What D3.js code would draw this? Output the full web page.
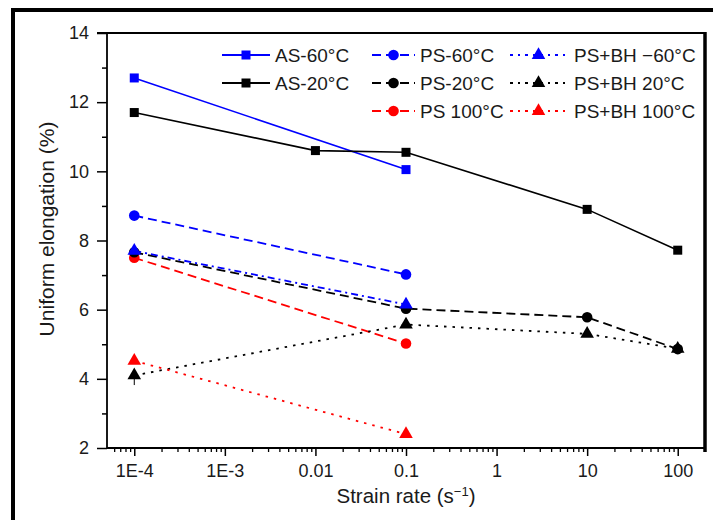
<!DOCTYPE html>
<html><head><meta charset="utf-8">
<script src="https://cdn.jsdelivr.net/npm/d3@7"></script>
<style>
html,body{margin:0;padding:0;background:#fff;}
svg{display:block;font-family:"Liberation Sans",Arial,Helvetica,sans-serif;}
</style></head>
<body><svg id="chart" width="713" height="520"></svg>
<script>
// ---- data ----
const xTickValues = [1e-4, 1e-3, 0.01, 0.1, 1, 10, 100];
const xTickLabels = ["1E-4", "1E-3", "0.01", "0.1", "1", "10", "100"];
const yTickValues = [2, 4, 6, 8, 10, 12, 14];

const asRates = [1e-4, 0.1];
const as60 = [12.7, 10.05];
const as20Rates = [1e-4, 0.01, 0.1, 10, 100];
const as20 = [11.7, 10.6, 10.55, 8.9, 7.72];

const psRates = [1e-4, 0.1];
const ps60 = [8.72, 7.02];
const ps20Rates = [1e-4, 0.1, 10, 100];
const ps20 = [7.66, 6.03, 5.78, 4.86];
const ps100 = [7.5, 5.02];

const bhRates = [1e-4, 0.1];
const bh60 = [7.7, 6.15];
const bh20Rates = [1e-4, 0.1, 10, 100];
const bh20 = [4.1, 5.57, 5.3, 4.87];
const bh20Err = [0.28, 0, 0, 0];
const bh100 = [4.52, 2.4];

const seriesNames = ["AS-60\u00B0C", "AS-20\u00B0C", "PS-60\u00B0C", "PS-20\u00B0C", "PS 100\u00B0C",
  "PS+BH \u221260\u00B0C", "PS+BH 20\u00B0C", "PS+BH 100\u00B0C"];

// ---- build series table ----
const series = [
  {name: seriesNames[0], xs: asRates, ys: as60, color: "#0000ff", dash: null, shape: "square"},
  {name: seriesNames[1], xs: as20Rates, ys: as20, color: "#000000", dash: null, shape: "square"},
  {name: seriesNames[2], xs: psRates, ys: ps60, color: "#0000ff", dash: "9,5", shape: "circle"},
  {name: seriesNames[3], xs: ps20Rates, ys: ps20, color: "#000000", dash: "9,5", shape: "circle"},
  {name: seriesNames[4], xs: psRates, ys: ps100, color: "#ff0000", dash: "9,5", shape: "circle"},
  {name: seriesNames[5], xs: bhRates, ys: bh60, color: "#0000ff", dash: "7,4,2,4", shape: "triangle"},
  {name: seriesNames[6], xs: bh20Rates, ys: bh20, color: "#000000", dash: "2.5,6", shape: "triangle", err: bh20Err},
  {name: seriesNames[7], xs: bhRates, ys: bh100, color: "#ff0000", dash: "2.5,6", shape: "triangle"}
];

const svg = d3.select("#chart");
const L = 107, R = 705, T = 33, B = 448;

// outer frame
svg.append("rect").attr("x", 13).attr("y", 10).attr("width", 740).attr("height", 540)
  .attr("fill", "none").attr("stroke", "#000").attr("stroke-width", 4);

const x = d3.scaleLog().domain([5e-5, 200]).range([L, R]);
const y = d3.scaleLinear().domain([2, 14]).range([B, T]);

// minor ticks
const xMinor = [];
for (let e = -5; e <= 2; e++) for (let m = 2; m <= 9; m++) {
  const v = m * Math.pow(10, e);
  if (v > 5e-5 && v < 200) xMinor.push(v);
}
svg.append("g").attr("transform", `translate(0,${B})`)
  .call(d3.axisBottom(x).tickValues(xMinor).tickSize(4).tickFormat(""))
  .call(g => g.select(".domain").remove())
  .selectAll("line").attr("stroke-width", 1.3);
svg.append("g").attr("transform", `translate(${L},0)`)
  .call(d3.axisLeft(y).tickValues([3,5,7,9,11,13]).tickSize(5).tickFormat(""))
  .call(g => g.select(".domain").remove())
  .selectAll("line").attr("stroke-width", 1.5);

// major axes
const xAxis = svg.append("g").attr("transform", `translate(0,${B})`)
  .call(d3.axisBottom(x).tickValues(xTickValues).tickSize(8).tickPadding(8)
    .tickFormat((d, i) => xTickLabels[i]));
xAxis.select(".domain").remove();
xAxis.selectAll("line").attr("stroke-width", 1.5);
xAxis.selectAll("text").attr("font-size", 18).attr("fill", "#1a1a1a")
  .attr("font-family", "'Liberation Sans',Arial,sans-serif");

const yAxis = svg.append("g").attr("transform", `translate(${L},0)`)
  .call(d3.axisLeft(y).tickValues(yTickValues).tickSize(10).tickPadding(8));
yAxis.select(".domain").remove();
yAxis.selectAll("line").attr("stroke-width", 1.5);
yAxis.selectAll("text").attr("font-size", 18).attr("fill", "#1a1a1a")
  .attr("font-family", "'Liberation Sans',Arial,sans-serif");

// plot box
svg.append("line").attr("x1", L).attr("x2", L).attr("y1", T).attr("y2", B).attr("stroke", "#000").attr("stroke-width", 1.8);
svg.append("line").attr("x1", L).attr("x2", R).attr("y1", B).attr("y2", B).attr("stroke", "#000").attr("stroke-width", 1.8);
svg.append("line").attr("x1", L - 10).attr("x2", R).attr("y1", T).attr("y2", T).attr("stroke", "#000").attr("stroke-width", 1.8);
svg.append("line").attr("x1", R).attr("x2", R).attr("y1", T - 1).attr("y2", B + 4).attr("stroke", "#000").attr("stroke-width", 3.5);

// axis titles
svg.append("text").attr("x", 406).attr("y", 503).attr("text-anchor", "middle")
  .attr("font-size", 20.5).attr("fill", "#1a1a1a")
  .html('Strain rate (s<tspan dy="-7" font-size="13">\u22121</tspan><tspan dy="7">)</tspan>');
svg.append("text").attr("transform", "translate(54,229) rotate(-90)").attr("text-anchor", "middle")
  .attr("font-size", 21).attr("fill", "#1a1a1a").text("Uniform elongation (%)");

// markers
function drawMarker(g, shape, cx, cy, color) {
  if (shape === "square") {
    g.append("rect").attr("x", cx - 4.5).attr("y", cy - 4.5).attr("width", 9).attr("height", 9).attr("fill", color);
  } else if (shape === "circle") {
    g.append("circle").attr("cx", cx).attr("cy", cy).attr("r", 5.3).attr("fill", color);
  } else {
    const s = d3.symbol().type(d3.symbolTriangle).size(80);
    g.append("path").attr("d", s()).attr("transform", `translate(${cx},${cy})`).attr("fill", color);
  }
}

const line = d3.line().x(d => x(d[0])).y(d => y(d[1]));
const plot = svg.append("g");
series.forEach(s => {
  const pts = s.xs.map((v, i) => [v, s.ys[i]]);
  plot.append("path").attr("d", line(pts)).attr("fill", "none").attr("stroke", s.color)
    .attr("stroke-width", s.dash ? 1.8 : 1.6).attr("stroke-dasharray", s.dash);
});
const order = [4, 3, 2, 7, 6, 5, 1, 0];
order.forEach(k => {
  const s = series[k];
  s.xs.forEach((v, i) => {
    if (s.err && s.err[i]) {
      plot.append("line").attr("x1", x(v)).attr("x2", x(v)).attr("y1", y(s.ys[i] - s.err[i])).attr("y2", y(s.ys[i]))
        .attr("stroke", s.color).attr("stroke-width", 1);
    }
    drawMarker(plot, s.shape, x(v), y(s.ys[i]), s.color);
  });
});

// legend
const cols = [{x1: 222, x2: 270, tx: 275, idx: [0, 1]},
              {x1: 372, x2: 415, tx: 420, idx: [2, 3, 4]},
              {x1: 510, x2: 567, tx: 574, idx: [5, 6, 7]}];
const rowsY = [55, 83, 111];
const lg = svg.append("g");
cols.forEach((c, ci) => {
  c.idx.forEach((k, r) => {
    const s = series[k];
    const yy = rowsY[r];
    const dash = ci === 0 ? null : (ci === 1 ? "9,5" : "3,5,2,5");
    lg.append("line").attr("x1", c.x1).attr("x2", c.x2).attr("y1", yy).attr("y2", yy)
      .attr("stroke", s.color).attr("stroke-width", 1.8).attr("stroke-dasharray", dash);
    drawMarker(lg, s.shape, (c.x1 + c.x2) / 2, yy, s.color);
    lg.append("text").attr("x", c.tx).attr("y", yy + 7).attr("font-size", 19).attr("fill", "#1a1a1a").text(s.name);
  });
});
</script></body></html>
